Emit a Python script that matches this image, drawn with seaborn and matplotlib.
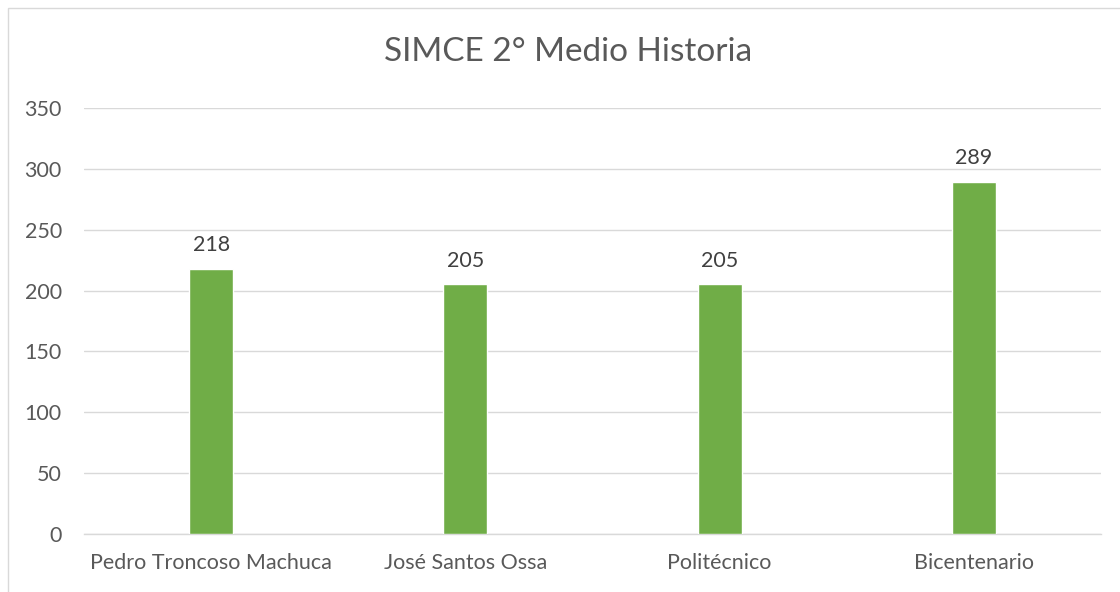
import matplotlib
matplotlib.use("Agg")
import matplotlib.pyplot as plt
import seaborn as sns
import pandas as pd
from matplotlib.patches import Rectangle

# data
schools = ["Pedro Troncoso Machuca", "José Santos Ossa", "Politécnico", "Bicentenario"]
scores = [218, 205, 205, 289]
y_ticks = [0, 50, 100, 150, 200, 250, 300, 350]

sns.set_theme(style="white")
plt.rcParams['font.family'] = ['Lato', 'DejaVu Sans']

df = pd.DataFrame({"school": schools, "score": scores})

fig = plt.figure(figsize=(11.2, 5.92), dpi=100)
ax = fig.add_axes([84 / 1120, 58 / 592, 1017 / 1120, 426 / 592])

sns.barplot(data=df, x="school", y="score", color="#70AD47", width=0.173,
            saturation=1, ax=ax, zorder=3)

ax.set_ylim(0, 350)
ax.set_yticks(y_ticks)
ax.set_xlim(-0.5, len(schools) - 0.5)
ax.yaxis.grid(True, color="#D9D9D9", linewidth=1.0, zorder=0)
ax.set_axisbelow(True)
for side in ["top", "right", "left"]:
    ax.spines[side].set_visible(False)
ax.spines["bottom"].set_color("#D9D9D9")
ax.spines["bottom"].set_linewidth(1.0)

ax.set_xlabel("")
ax.set_ylabel("")
ax.tick_params(axis="both", length=0, labelsize=15.5, colors="#595959")
ax.tick_params(axis="x", pad=14)
ax.tick_params(axis="y", pad=16)

for i, v in enumerate(scores):
    ax.annotate(str(v), (i, v), xytext=(0, 10), textcoords="offset points",
                ha="center", va="bottom", fontsize=15.5, color="#404040")

fig.text(568 / 1120, 1 - 52 / 592, "SIMCE 2° Medio Historia", ha="center",
         va="center", fontsize=24, color="#595959")

# chart area border (only top and left edges fall inside the image)
fig.patches.append(Rectangle((8 / 1120, -0.1), 1.2, 1.1 - 8 / 592,
                             transform=fig.transFigure, fill=False,
                             edgecolor="#D9D9D9", linewidth=1.0))

fig.savefig("out.png", dpi=100)
